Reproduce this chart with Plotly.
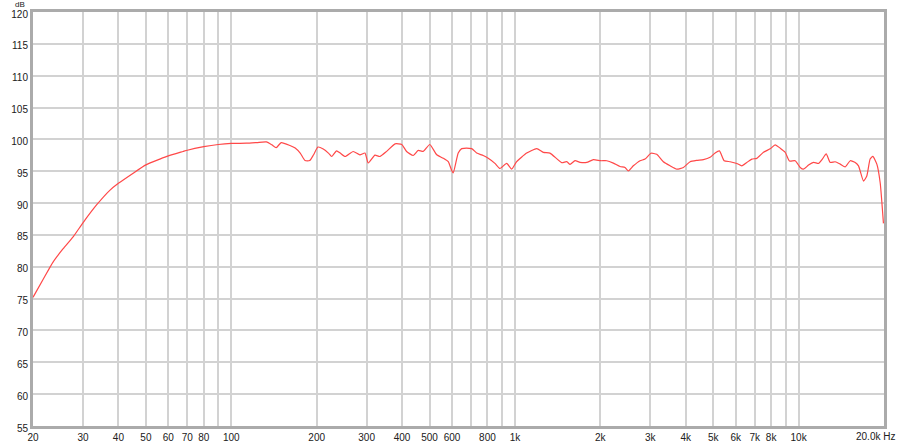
import numpy as np
import plotly.graph_objects as go

# frequency response (Hz, dB)
freq_hz = [
    20, 21.7, 23.5, 25.5, 27.7, 30, 33.5, 37.3, 40, 45.1, 50, 56, 60, 67.6, 70, 80, 90, 100,
    113, 123, 133, 139, 144, 150, 161, 168, 175, 182, 189, 195, 202, 211, 220, 226, 235, 242,
    252, 269, 284, 296, 304, 321, 334, 353, 378, 399, 415, 438, 456, 475, 501, 530, 559, 582,
    598, 606, 631, 649, 704, 733, 773, 805, 850, 886, 935, 974, 1014, 1100, 1193, 1259, 1329,
    1462, 1523, 1564, 1629, 1696, 1791, 1890, 2006, 2107, 2223, 2347, 2444, 2511, 2615, 2761,
    2876, 3018, 3162, 3336, 3523, 3721, 3925, 4145, 4376, 4617, 4875, 5077, 5259, 5463, 5735,
    6055, 6306, 6569, 6841, 7124, 7518, 7939, 8268, 8611, 8967, 9285, 9726, 10129, 10400,
    10838, 11289, 11756, 12086, 12513, 12925, 13460, 14020, 14600, 15203, 15831, 16260, 16936,
    17397, 17870, 18270, 18870, 19390, 19910,
]
level_db = [
    75.2, 78.0, 80.7, 82.8, 84.7, 86.9, 89.7, 92.0, 93.1, 94.7, 96.0, 96.9, 97.4, 98.1, 98.3, 98.85, 99.2, 99.37,
    99.4, 99.5, 99.6, 99.15, 98.7, 99.5, 99.05, 98.66, 97.85, 96.67, 96.67, 97.58, 98.8, 98.49, 97.85, 97.31, 98.2, 97.85,
    97.31, 98.1, 97.58, 97.85, 96.29, 97.53, 97.31, 98.12, 99.3, 99.2, 98.1, 97.47, 98.28, 98.12, 99.2, 97.58, 97.04, 96.5,
    95.16, 94.73, 97.85, 98.55, 98.55, 97.85, 97.47, 97.04, 96.24, 95.43, 96.24, 95.33, 96.5, 97.85, 98.55, 97.96, 97.85,
    96.34, 96.5, 96.08, 96.67, 96.4, 96.38, 96.81, 96.65, 96.65, 96.28, 95.74, 95.59, 95.05, 95.85, 96.65,
    96.91, 97.82, 97.66, 96.49, 95.85, 95.32, 95.59, 96.49, 96.7, 96.81, 97.18, 97.87, 98.19, 96.65, 96.49,
    96.22, 95.85, 96.38, 96.91, 97.02, 97.98, 98.51, 99.15, 98.62, 97.98, 96.6, 96.65, 95.59, 95.32,
    95.96, 96.38, 96.22, 96.81, 97.71, 96.38, 96.49, 96.12, 95.69, 96.65, 96.38, 95.85, 93.46,
    94.26, 96.91, 97.34, 96.12, 93.19, 86.81,
]

x_tick_vals = [20, 30, 40, 50, 60, 70, 80, 90, 100, 200, 300, 400, 500, 600, 700, 800, 900,
               1000, 2000, 3000, 4000, 5000, 6000, 7000, 8000, 9000, 10000, 20000]
x_tick_text = ["20", "30", "40", "50", "60", "70", "80", "", "100", "200", "300", "400", "500", "600", "", "800", "",
               "1k", "2k", "3k", "4k", "5k", "6k", "7k", "8k", "", "10k", ""]
y_tick_vals = list(range(55, 121, 5))

font_family = "Liberation Sans, Arial, sans-serif"

fig = go.Figure()
fig.add_trace(
    go.Scatter(
        x=freq_hz,
        y=level_db,
        mode="lines",
        line=dict(color="#ff4848", width=1.2, shape="spline", smoothing=0.5),
        showlegend=False,
        hovertemplate="%{x:.0f} Hz<br>%{y:.1f} dB<extra></extra>",
    )
)

fig.update_layout(
    width=900,
    height=444,
    margin=dict(l=33, r=16, t=12, b=18),
    paper_bgcolor="white",
    plot_bgcolor="white",
    font=dict(family=font_family, size=10, color="#202020"),
    xaxis=dict(
        type="log",
        range=[np.log10(20), np.log10(20000)],
        tickvals=x_tick_vals,
        ticktext=x_tick_text,
        showgrid=True,
        gridcolor="#d2d2d2",
        gridwidth=1.5,
        showline=True,
        linecolor="#ababab",
        linewidth=3,
        mirror=True,
        ticks="",
        zeroline=False,
        automargin=False,
    ),
    yaxis=dict(
        range=[55, 120],
        tickvals=y_tick_vals,
        ticklabelshift=2,
        showgrid=True,
        gridcolor="#d2d2d2",
        gridwidth=1.5,
        showline=True,
        linecolor="#ababab",
        linewidth=3,
        mirror=True,
        ticks="",
        zeroline=False,
        automargin=False,
    ),
    annotations=[
        dict(text="dB", xref="paper", yref="paper", x=-0.007, y=1.0, xanchor="right", yanchor="middle",
             yshift=8, showarrow=False, font=dict(size=8)),
        dict(text="20.0k Hz", xref="paper", yref="paper", x=1.0153, y=0, xanchor="right", yanchor="top",
             yshift=-3, showarrow=False, font=dict(size=10)),
    ],
)

# page body has an 8px default margin; drop it so the figure sits at the window corner
fig.write_html(
    "out.html",
    config={"displayModeBar": False},
    post_script="document.body.style.margin='0';",
)
